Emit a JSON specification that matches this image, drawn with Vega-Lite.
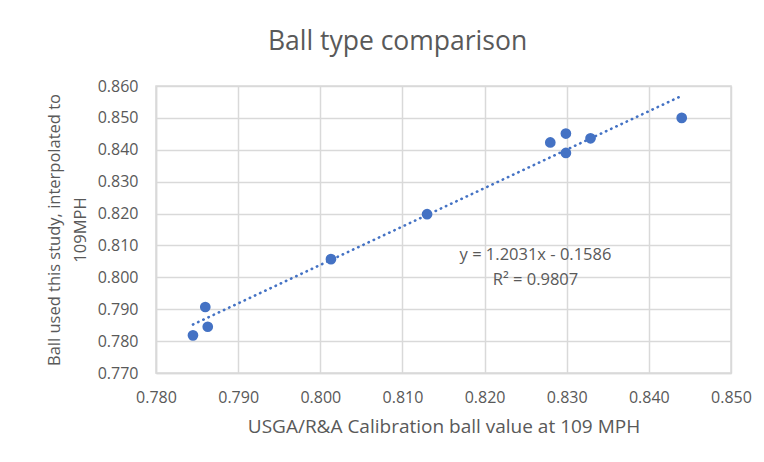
{
  "$schema": "https://vega.github.io/schema/vega-lite/v6.json",
  "width": 575,
  "height": 287,
  "autosize": {"type": "none"},
  "padding": {"left": 156, "top": 86, "right": 33, "bottom": 89},
  "background": "white",
  "config": {
    "font": "Open Sans",
    "view": {"stroke": "#d9d9d9", "strokeWidth": 1.5},
    "axis": {
      "grid": true,
      "gridColor": "#d9d9d9",
      "gridWidth": 1.5,
      "domainColor": "#d9d9d9",
      "domainWidth": 1.5,
      "ticks": false,
      "labelColor": "#595959",
      "labelFontSize": 16,
      "labelFont": "Open Sans",
      "labelOverlap": false,
      "labelFlush": false,
      "labelBound": false,
      "titleColor": "#595959",
      "titleFont": "Open Sans",
      "titleFontSize": 16,
      "titleFontWeight": "normal"
    }
  },
  "title": {
    "text": "Ball type comparison",
    "fontSize": 26.5,
    "font": "Open Sans",
    "fontWeight": "normal",
    "color": "#595959",
    "anchor": "middle",
    "dx": -46,
    "offset": 23
  },
  "data": {
    "values": [
      {"calib": 0.7845, "study": 0.7818},
      {"calib": 0.7860, "study": 0.7907},
      {"calib": 0.7863, "study": 0.7845},
      {"calib": 0.8013, "study": 0.8057},
      {"calib": 0.8130, "study": 0.8198},
      {"calib": 0.8280, "study": 0.8423},
      {"calib": 0.8299, "study": 0.8451},
      {"calib": 0.8299, "study": 0.8390},
      {"calib": 0.8329, "study": 0.8436},
      {"calib": 0.8440, "study": 0.8500}
    ]
  },
  "layer": [
    {
      "transform": [{"regression": "study", "on": "calib", "method": "linear"}],
      "mark": {"type": "line", "color": "#4472C4", "strokeWidth": 2.6, "strokeDash": [0.4, 5.3], "strokeCap": "round"},
      "encoding": {
        "x": {"field": "calib", "type": "quantitative"},
        "y": {"field": "study", "type": "quantitative"}
      }
    },
    {
      "mark": {"type": "circle", "color": "#4472C4", "opacity": 1, "size": 115},
      "encoding": {
        "x": {
          "field": "calib",
          "type": "quantitative",
          "scale": {"domain": [0.78, 0.85], "nice": false, "zero": false},
          "axis": {
            "values": [0.78, 0.79, 0.8, 0.81, 0.82, 0.83, 0.84, 0.85],
            "tickCount": 20,
            "format": ".3f",
            "labelPadding": 16,
            "title": "USGA/R&A Calibration ball value at 109 MPH",
            "titleFontSize": 19,
            "titlePadding": 12
          }
        },
        "y": {
          "field": "study",
          "type": "quantitative",
          "scale": {"domain": [0.77, 0.86], "nice": false, "zero": false},
          "axis": {
            "values": [0.77, 0.78, 0.79, 0.8, 0.81, 0.82, 0.83, 0.84, 0.85, 0.86],
            "tickCount": 20,
            "format": ".3f",
            "labelPadding": 18,
            "title": ["Ball used this study, interpolated to", "109MPH"],
            "titleFontSize": 16.5,
            "titlePadding": 9,
            "titleLineHeight": 26
          }
        }
      }
    },
    {
      "data": {"values": [{}]},
      "mark": {"type": "text", "fontSize": 16.5, "color": "#595959", "align": "center", "baseline": "middle", "lineHeight": 25},
      "encoding": {
        "x": {"datum": 0.8262, "type": "quantitative"},
        "y": {"datum": 0.8070, "type": "quantitative"},
        "text": {"value": ["y = 1.2031x - 0.1586", "R² = 0.9807"]}
      }
    }
  ]
}
